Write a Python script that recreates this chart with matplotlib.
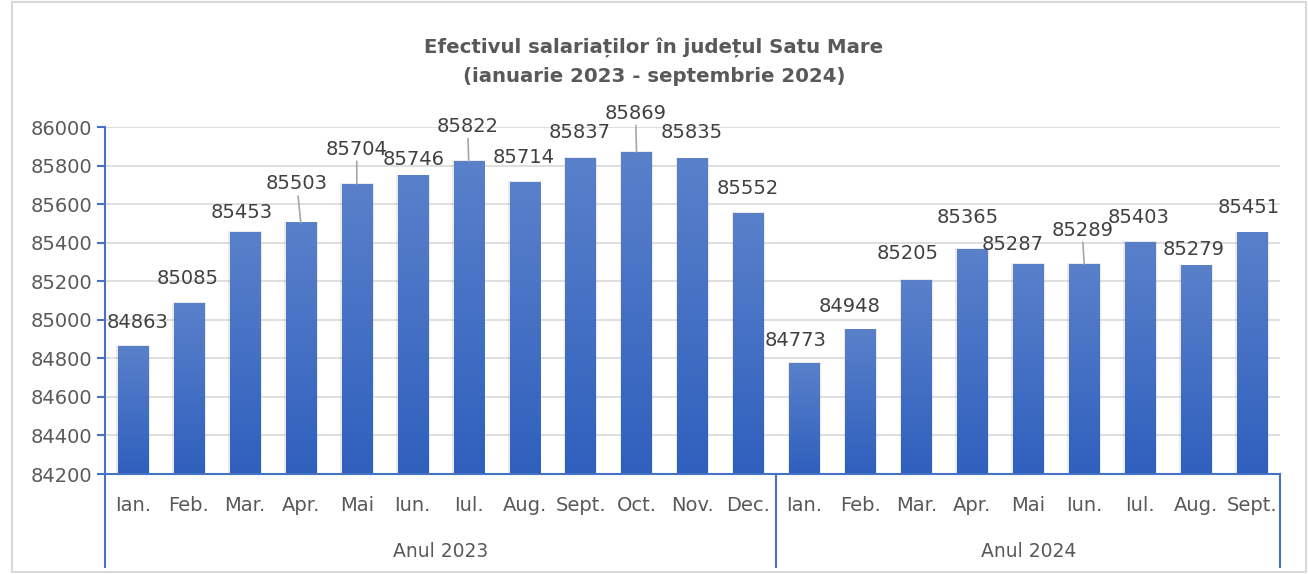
import matplotlib.pyplot as plt
import numpy as np
from matplotlib.colors import LinearSegmentedColormap
from matplotlib.patches import Rectangle

months = ["Ian.", "Feb.", "Mar.", "Apr.", "Mai", "Iun.", "Iul.", "Aug.", "Sept.", "Oct.", "Nov.", "Dec.",
          "Ian.", "Feb.", "Mar.", "Apr.", "Mai", "Iun.", "Iul.", "Aug.", "Sept."]
values = [84863, 85085, 85453, 85503, 85704, 85746, 85822, 85714, 85837, 85869, 85835, 85552,
          84773, 84948, 85205, 85365, 85287, 85289, 85403, 85279, 85451]
groups = ["Anul 2023", "Anul 2024"]
group_sizes = [12, 9]

# label offsets from the bar top, in pixels (dx, dy), and which ones get a leader line
label_offsets = [(5, 24), (-1, 25), (-3, 20), (-4, 39), (0, 35), (1, 16), (-1, 35), (-1, 25),
                 (-1, 26), (-1, 39), (-1, 26), (-1, 25),
                 (-9, 23), (-11, 23), (-9, 27), (-5, 32), (-16, 20), (-2, 34), (-2, 25), (-2, 16), (-3, 25)]
leaders = [3, 4, 6, 9, 17]

GRAY = "#595959"
BLUE = "#4472C4"
plt.rcParams['font.family'] = ['DejaVu Sans']

fig = plt.figure(figsize=(13.08, 5.74), dpi=100)
ax = fig.add_axes([105 / 1308, 100 / 574, 1175 / 1308, 347 / 574])

ymin, ymax = 84200, 86000
x = np.arange(len(values))
width = 0.54
cmap = LinearSegmentedColormap.from_list("bar", ["#2F60BE", "#5A80CA"])
grad = np.linspace(0, 1, 256).reshape(-1, 1)
for xi, v in zip(x, values):
    ax.imshow(grad, extent=[xi - width / 2, xi + width / 2, ymin, v], origin="lower",
              aspect="auto", cmap=cmap, zorder=2)
    # soft shadow
    ax.add_patch(Rectangle((xi - width / 2 - 0.03, ymin), width + 0.06, v - ymin + 6,
                           facecolor="#000000", alpha=0.08, lw=0, zorder=1.5))

ax.set_xlim(-0.5, len(values) - 0.5)
ax.set_ylim(ymin, ymax)
ax.set_yticks(np.arange(ymin, ymax + 1, 200))
ax.yaxis.grid(True, color="#D9D9D9", lw=1.2, zorder=0)
ax.set_axisbelow(True)

for s in ["top", "right"]:
    ax.spines[s].set_visible(False)
for s in ["left", "bottom"]:
    ax.spines[s].set_color(BLUE)
    ax.spines[s].set_linewidth(1.5)
    ax.spines[s].set_zorder(3)

ax.tick_params(axis="y", colors=BLUE, length=6, width=1.5, labelsize=14, labelcolor=GRAY, pad=3)
ax.set_xticks(x)
ax.set_xticklabels(months)
ax.tick_params(axis="x", length=0, labelsize=14, labelcolor=GRAY, pad=16)

# data labels
for i, (v, (dx, dy)) in enumerate(zip(values, label_offsets)):
    kw = {}
    if i in leaders:
        kw["arrowprops"] = dict(arrowstyle="-", color="#A6A6A6", lw=1.2, shrinkA=0, shrinkB=0)
    ax.annotate(str(v), xy=(i, v), xytext=(dx, dy), textcoords="offset pixels",
                ha="center", va="center", fontsize=14, color="#404040", zorder=4, **kw)

# group separators and labels
trans = ax.get_xaxis_transform()
start = 0
bounds = [-0.5]
for g, n in zip(groups, group_sizes):
    ax.text(start + (n - 1) / 2, -0.222, g, transform=trans, ha="center", va="center",
            fontsize=13.5, color=GRAY)
    start += n
    bounds.append(start - 0.5)
for b in bounds:
    ax.plot([b, b], [0, -0.268], transform=trans, color=BLUE, lw=1.5, clip_on=False)

fig.text(0.5, 1 - 47 / 574, "Efectivul salariaților în județul Satu Mare", ha="center", va="center",
         fontsize=14.2, fontweight="bold", color=GRAY)
fig.text(0.5, 1 - 77 / 574, "(ianuarie 2023 - septembrie 2024)", ha="center", va="center",
         fontsize=14.2, fontweight="bold", color=GRAY)

fig.patches.append(Rectangle((12 / 1308, 2 / 574), 1294 / 1308, 570 / 574, transform=fig.transFigure,
                             fill=False, edgecolor="#D9D9D9", lw=1.5))

fig.savefig("out.png", dpi=100)
